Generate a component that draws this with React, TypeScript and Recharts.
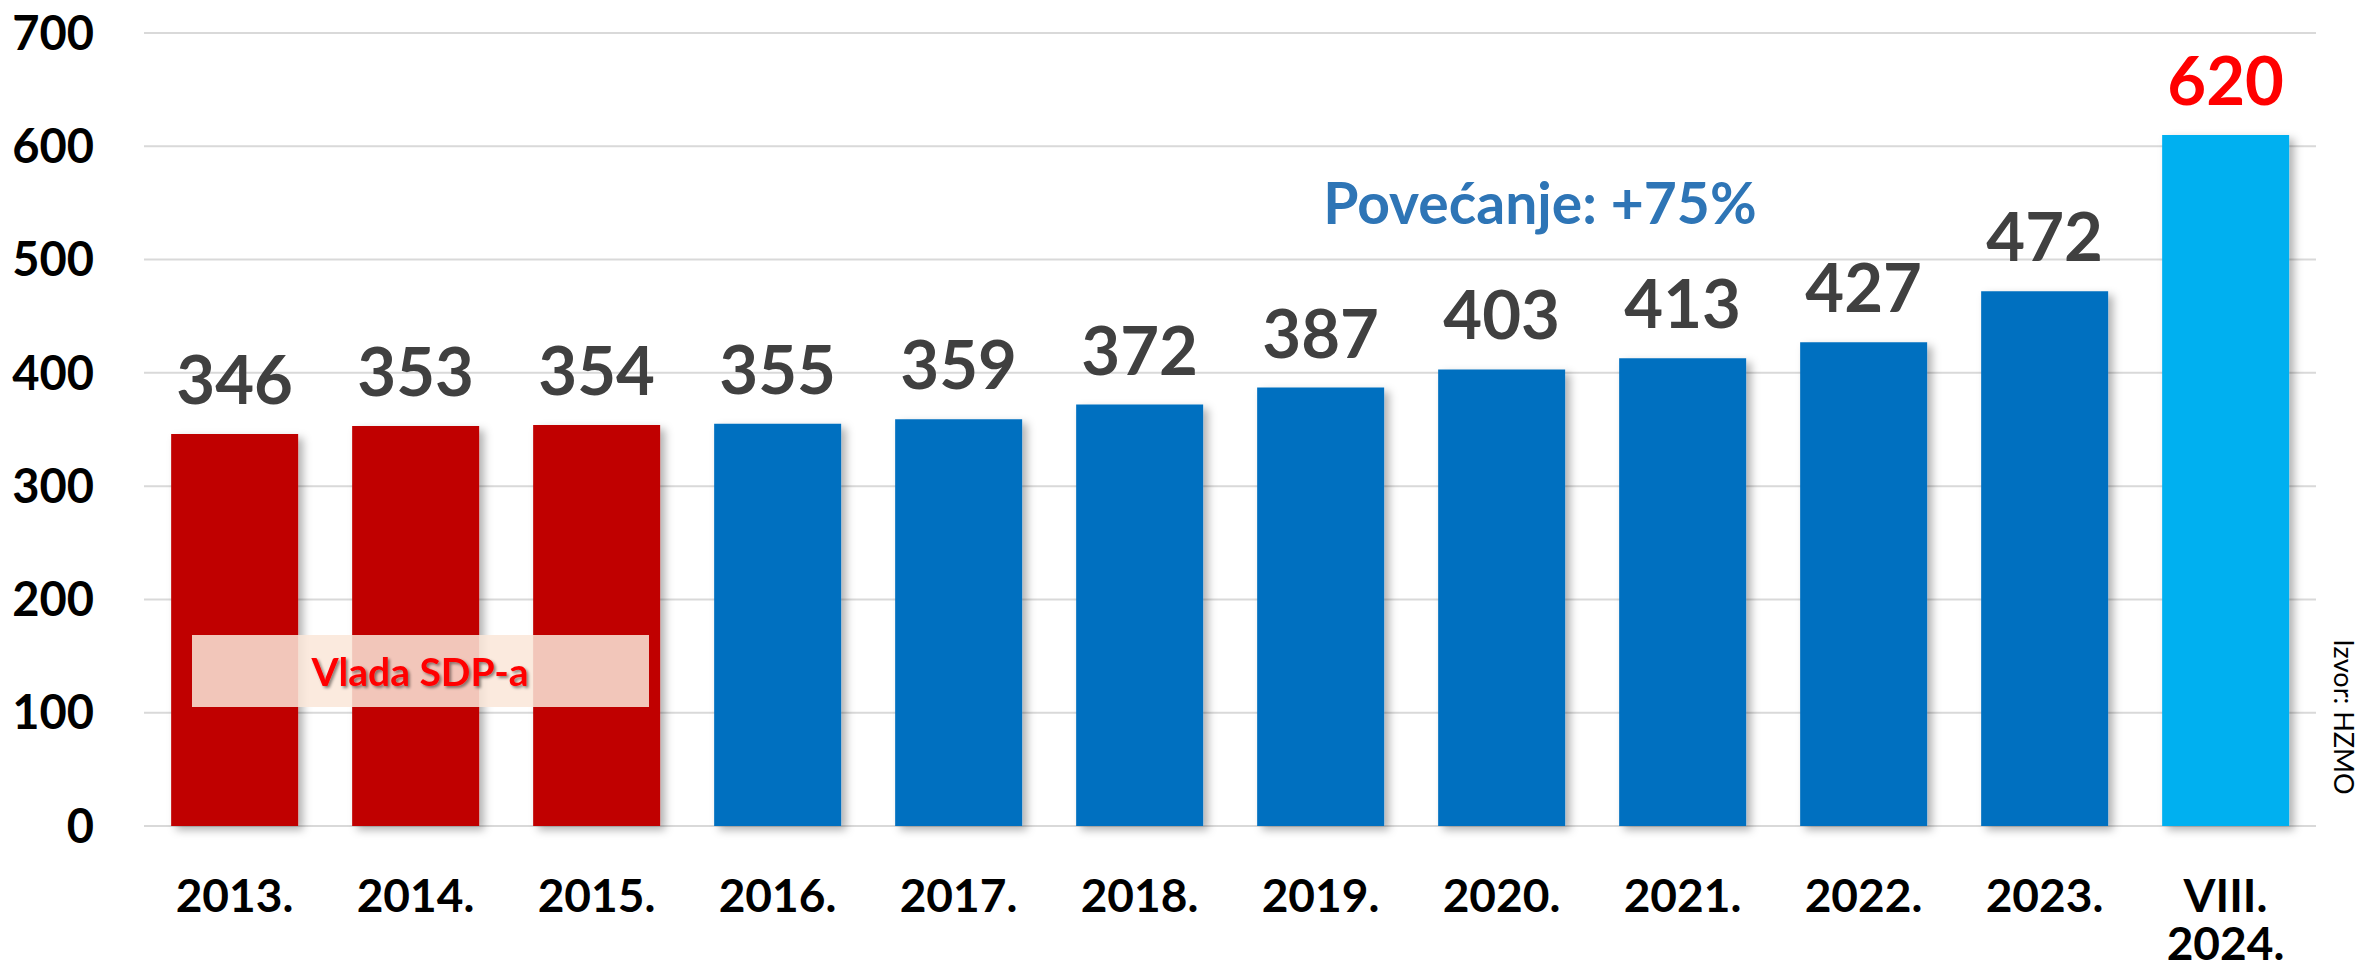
import { BarChart, Bar, XAxis, YAxis, CartesianGrid, LabelList, Rectangle } from 'recharts'

// Godine (zadnja je kolovoz 2024.)
const periods = ['2013.', '2014.', '2015.', '2016.', '2017.', '2018.', '2019.', '2020.', '2021.', '2022.', '2023.', 'VIII.\n2024.']
// visine stupaca kako su nacrtane
const values = [346, 353, 354, 355, 359, 372, 387, 403, 413, 427, 472, 610]
// oznake iznad stupaca
const valueLabels = ['346', '353', '354', '355', '359', '372', '387', '403', '413', '427', '472', '620']
// razdoblje: vlada SDP-a / ostale godine / tekuća godina
const kinds = ['sdp', 'sdp', 'sdp', 'other', 'other', 'other', 'other', 'other', 'other', 'other', 'other', 'current']
const yTicks = [0, 100, 200, 300, 400, 500, 600, 700]

const FONT = 'Lato, "Noto Sans", sans-serif'

const barColors: Record<string, string> = {
  sdp: '#C00000',
  other: '#0070C0',
  current: '#00B0F0',
}

const data = periods.map((p, i) => ({
  period: p,
  value: values[i],
  label: valueLabels[i],
  kind: kinds[i],
}))

function BarShape(props: any) {
  const fill = barColors[props.payload?.kind] ?? '#0070C0'
  return <Rectangle {...props} fill={fill} filter="url(#barShadow)" />
}

function ValueLabel(props: any) {
  const { x, y, width, value, index } = props
  const color = kinds[index] === 'current' ? '#FF0000' : '#404040'
  return (
    <text
      x={Number(x) + Number(width) / 2}
      y={Number(y) - 30}
      textAnchor="middle"
      fill={color}
      fontSize={67}
      fontWeight={700}
      fontFamily={FONT}
    >
      {value}
    </text>
  )
}

function PeriodTick(props: any) {
  const { x, y, payload } = props
  const lines = String(payload.value).split('\n')
  return (
    <text x={x} y={y} textAnchor="middle" fill="#000" fontSize={46} fontWeight={700} fontFamily={FONT}>
      {lines.map((l, i) => (
        <tspan key={i} x={x} dy={i === 0 ? 86 : 48}>
          {l}
        </tspan>
      ))}
    </text>
  )
}

export default function App() {
  return (
    <div style={{ position: 'absolute', left: 0, top: 0, width: 2361, height: 980, background: '#fff' }}>
      <BarChart
        width={2361}
        height={980}
        data={data}
        margin={{ top: 33, right: 45, bottom: 0, left: 0 }}
        barCategoryGap="15%"
      >
        <defs>
          <filter id="barShadow" x="-10%" y="-10%" width="130%" height="130%">
            <feDropShadow dx={5} dy={4} stdDeviation={4} floodColor="#000" floodOpacity={0.3} />
          </filter>
        </defs>

        <CartesianGrid vertical={false} stroke="#D9D9D9" strokeWidth={2} />

        <XAxis
          dataKey="period"
          height={154}
          interval={0}
          axisLine={false}
          tickLine={false}
          tickSize={0}
          tickMargin={0}
          tick={<PeriodTick />}
        />
        <YAxis
          width={144}
          domain={[0, 700]}
          ticks={yTicks}
          axisLine={false}
          tickLine={false}
          tickSize={0}
          tickMargin={50}
          tick={{ fill: '#000', fontSize: 47, fontWeight: 700, fontFamily: FONT }}
        />

        <Bar dataKey="value" shape={<BarShape />} isAnimationActive={false}>
          <LabelList dataKey="label" content={<ValueLabel />} />
        </Bar>
      </BarChart>

      {/* bilješke iznad grafa */}
      <svg
        width={2361}
        height={980}
        style={{ position: 'absolute', left: 0, top: 0, pointerEvents: 'none' }}
      >
        <defs>
          <filter id="textShadow" x="-10%" y="-20%" width="130%" height="160%">
            <feDropShadow dx={2} dy={2} stdDeviation={1.5} floodColor="#000" floodOpacity={0.45} />
          </filter>
        </defs>
        <text x={1540} y={224} textAnchor="middle" fill="#2E75B6" fontSize={57} fontWeight={700} fontFamily={FONT}>
          Povećanje: +75%
        </text>

        <rect x={192} y={635} width={457} height={72} fill="#FAE6D8" fillOpacity={0.86} />
        <text
          x={420}
          y={686}
          textAnchor="middle"
          fill="#FF0000"
          fontSize={39}
          fontWeight={700}
          fontFamily={FONT}
          filter="url(#textShadow)"
        >
          Vlada SDP-a
        </text>

        <text
          transform="translate(2334,717) rotate(90)"
          textAnchor="middle"
          fill="#000"
          fontSize={27}
          fontFamily={FONT}
        >
          Izvor: HZMO
        </text>
      </svg>
    </div>
  )
}
